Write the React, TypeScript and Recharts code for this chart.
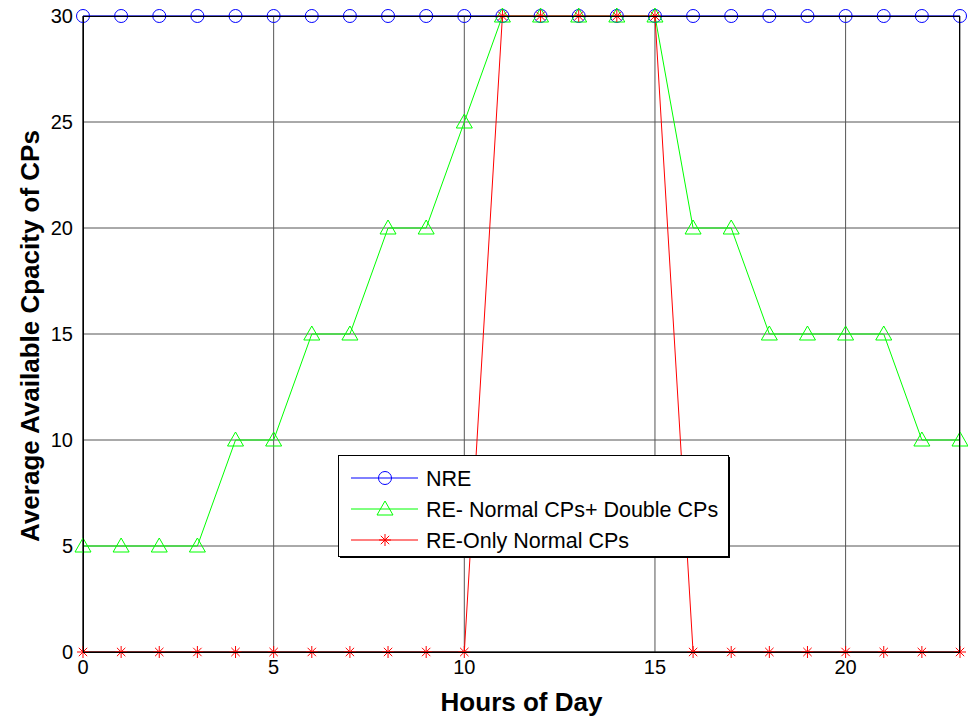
import { LineChart, Line, XAxis, YAxis, CartesianGrid } from 'recharts';

const hours = [0, 1, 2, 3, 4, 5, 6, 7, 8, 9, 10, 11, 12, 13, 14, 15, 16, 17, 18, 19, 20, 21, 22, 23];
const nre = [30, 30, 30, 30, 30, 30, 30, 30, 30, 30, 30, 30, 30, 30, 30, 30, 30, 30, 30, 30, 30, 30, 30, 30];
const reDouble = [5, 5, 5, 5, 10, 10, 15, 15, 20, 20, 25, 30, 30, 30, 30, 30, 20, 20, 15, 15, 15, 15, 10, 10];
const reNormal = [0, 0, 0, 0, 0, 0, 0, 0, 0, 0, 0, 30, 30, 30, 30, 30, 0, 0, 0, 0, 0, 0, 0, 0];
const xTicks = [0, 5, 10, 15, 20];
const yTicks = [0, 5, 10, 15, 20, 25, 30];

const data = hours.map((h, i) => ({ hour: h, nre: nre[i], reDouble: reDouble[i], reNormal: reNormal[i] }));

const FONT = '"Liberation Sans", Arial, sans-serif';

function Circle({ cx, cy }: any) {
  return <circle cx={cx} cy={cy} r={6.5} fill="none" stroke="#0000ff" strokeWidth={1} />;
}

function Triangle({ cx, cy }: any) {
  const s = 8;
  return (
    <polygon
      points={`${cx},${cy - s} ${cx - s},${cy + s * 0.75} ${cx + s},${cy + s * 0.75}`}
      fill="none"
      stroke="#00ff00"
      strokeWidth={1}
    />
  );
}

function Star({ cx, cy }: any) {
  const r = 6;
  const d = r * 0.7;
  return (
    <g stroke="#ff0000" strokeWidth={1}>
      <line x1={cx - r} y1={cy} x2={cx + r} y2={cy} />
      <line x1={cx} y1={cy - r} x2={cx} y2={cy + r} />
      <line x1={cx - d} y1={cy - d} x2={cx + d} y2={cy + d} />
      <line x1={cx - d} y1={cy + d} x2={cx + d} y2={cy - d} />
    </g>
  );
}

const legendItems = [
  { label: 'NRE', color: '#0000ff', Marker: Circle },
  { label: 'RE- Normal CPs+ Double CPs', color: '#00ff00', Marker: Triangle },
  { label: 'RE-Only Normal CPs', color: '#ff0000', Marker: Star },
];

function LegendBox() {
  return (
    <svg width={392} height={103} style={{ display: 'block' }}>
      <rect x={0.5} y={0.5} width={390} height={101} fill="#fff" stroke="#000" strokeWidth={1} />
      <line x1={2} y1={102.5} x2={392} y2={102.5} stroke="#000" />
      <line x1={391.5} y1={2} x2={391.5} y2={103} stroke="#000" />
      {legendItems.map((it, i) => {
        const y = 23 + i * 31;
        return (
          <g key={it.label}>
            <line x1={13} y1={y} x2={80} y2={y} stroke={it.color} strokeWidth={1} />
            <it.Marker cx={47} cy={y} />
            <text x={88} y={y + 7.5} fontSize={21.5} fontFamily={FONT} fill="#000">
              {it.label}
            </text>
          </g>
        );
      })}
    </svg>
  );
}

function YLabel() {
  return (
    <text
      x={30}
      y={336}
      transform="rotate(-90, 30, 336)"
      textAnchor="middle"
      dominantBaseline="central"
      fontSize={26}
      fontWeight="bold"
      fontFamily={FONT}
      fill="#000"
    >
      Average Available Cpacity of CPs
    </text>
  );
}

export default function App() {
  return (
    <div style={{ position: 'absolute', left: 0, top: 0, width: 968, height: 719, background: '#fff' }}>
      <LineChart width={968} height={719} data={data} margin={{ top: 16, right: 8, bottom: 0, left: 0 }}>
        <CartesianGrid stroke="#555" strokeWidth={1} vertical horizontal />
        <XAxis
          dataKey="hour"
          type="number"
          domain={[0, 23]}
          ticks={xTicks}
          interval={0}
          tickLine={false}
          axisLine={{ stroke: '#000' }}
          tick={{ fill: '#000', fontSize: 20, fontFamily: FONT }}
          tickMargin={2}
          label={{ value: 'Hours of Day', position: 'insideBottom', offset: 8, fill: '#000', fontSize: 26, fontWeight: 'bold', fontFamily: FONT }}
          height={67}
        />
        <YAxis
          type="number"
          domain={[0, 30]}
          ticks={yTicks}
          interval={0}
          tickLine={false}
          axisLine={{ stroke: '#000' }}
          width={83}
          tick={{ fill: '#000', fontSize: 20, fontFamily: FONT }}
          tickMargin={4}
          label={<YLabel />}
        />
        <Line dataKey="nre" stroke="#0000ff" strokeWidth={1} dot={<Circle />} isAnimationActive={false} activeDot={false} />
        <Line dataKey="reDouble" stroke="#00ff00" strokeWidth={1} dot={<Triangle />} isAnimationActive={false} activeDot={false} />
        <Line dataKey="reNormal" stroke="#ff0000" strokeWidth={1} dot={<Star />} isAnimationActive={false} activeDot={false} />
      </LineChart>
      <div style={{ position: 'absolute', left: 83, top: 16, width: 877, height: 637, border: '1px solid #000', boxSizing: 'border-box', pointerEvents: 'none' }} />
      <div style={{ position: 'absolute', left: 338, top: 455 }}>
        <LegendBox />
      </div>
    </div>
  );
}
